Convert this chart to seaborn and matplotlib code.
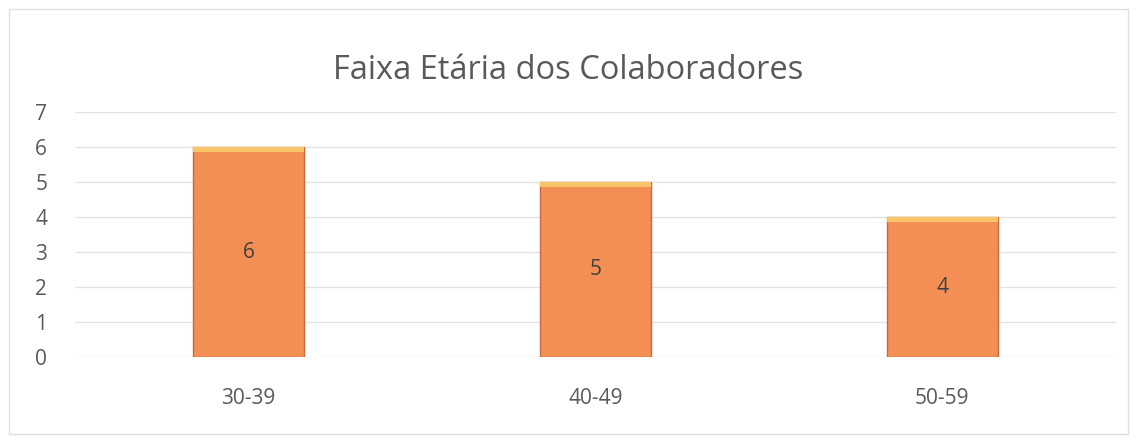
import matplotlib
matplotlib.use("Agg")
import matplotlib.pyplot as plt
import seaborn as sns
import pandas as pd
from matplotlib.patches import Rectangle

categories = ["30-39", "40-49", "50-59"]
values = [6, 5, 4]
title = "Faixa Etária dos Colaboradores"

sns.set_theme(style="white")
plt.rcParams['font.family'] = ['Open Sans', 'DejaVu Sans']

df = pd.DataFrame({"faixa": categories, "n": values})

fig = plt.figure(figsize=(11.36, 4.41), dpi=100)
ax = fig.add_axes([0.066, 0.19, 0.916, 0.556])

sns.barplot(data=df, x="faixa", y="n", color="#F38E55", width=0.32,
            edgecolor="#C9693A", linewidth=1.0, saturation=1, ax=ax, zorder=3)

for i, p in enumerate(ax.patches):
    x0, w, h = p.get_x(), p.get_width(), p.get_height()
    # light bevel at top of bar
    ax.add_patch(Rectangle((x0, h - 0.14), w, 0.14, facecolor="#F8C468",
                           edgecolor="none", zorder=4))
    ax.text(x0 + w / 2, h / 2, f"{values[i]}", ha="center", va="center",
            fontsize=15, color="#404040", zorder=5)

ax.set_ylim(0, 7)
ax.set_xlim(-0.5, 2.5)
ax.set_yticks(range(0, 8))
ax.yaxis.grid(True, color="#E3E3E3", linewidth=1, zorder=0)
ax.set_axisbelow(True)
for s in ax.spines.values():
    s.set_visible(False)
ax.set_xlabel("")
ax.set_ylabel("")
ax.tick_params(axis="y", labelsize=15, labelcolor="#595959", length=0, pad=20)
ax.tick_params(axis="x", labelsize=15, labelcolor="#595959", length=0, pad=22)

fig.text(0.5, 0.84, title, ha="center", va="center", fontsize=23.5, color="#595959")

fig.patches.append(Rectangle((0.008, 0.015), 0.985, 0.965, transform=fig.transFigure,
                             fill=False, edgecolor="#E0E0E0", linewidth=1))

fig.savefig("out.png", dpi=100, facecolor="white")
